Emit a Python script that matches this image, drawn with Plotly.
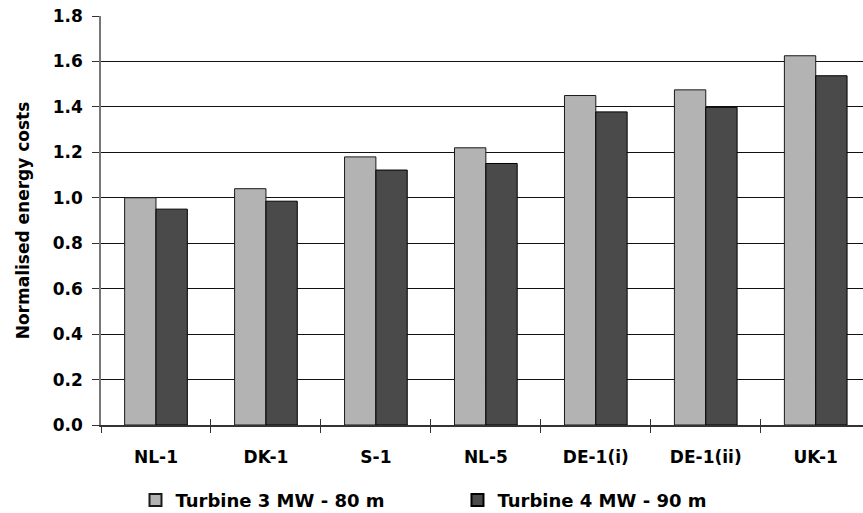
import plotly.graph_objects as go

# Offshore wind sites and normalised energy costs for two turbine designs
sites = ["NL-1", "DK-1", "S-1", "NL-5", "DE-1(i)", "DE-1(ii)", "UK-1"]
turbine_3mw = [1.00, 1.04, 1.18, 1.22, 1.45, 1.475, 1.625]
turbine_4mw = [0.95, 0.985, 1.122, 1.151, 1.378, 1.398, 1.537]
series_names = ["Turbine 3 MW - 80 m", "Turbine 4 MW - 90 m"]
y_ticks = [0.0, 0.2, 0.4, 0.6, 0.8, 1.0, 1.2, 1.4, 1.6, 1.8]

FONT = "DejaVu Sans"
LIGHT = "#b3b3b3"
DARK = "#4a4a4a"

fig = go.Figure()
fig.add_trace(go.Bar(
    x=sites, y=turbine_3mw, name=series_names[0],
    marker=dict(color=LIGHT, line=dict(color="#1a1a1a", width=1)),
))
fig.add_trace(go.Bar(
    x=sites, y=turbine_4mw, name=series_names[1],
    marker=dict(color=DARK, line=dict(color="#000000", width=1)),
))

# boundaries between site groups, used for the upper half of the crossing ticks
boundaries = [i - 0.5 for i in range(len(sites) + 1)]
x_range = [-0.5, 6.43]

fig.update_layout(
    width=863, height=513,
    margin=dict(l=101, r=0, t=16, b=88),
    paper_bgcolor="white", plot_bgcolor="white",
    font=dict(family=FONT, size=17, color="black", weight="bold"),
    barmode="group", bargap=0.43, bargroupgap=0,
    showlegend=True,
    legend=dict(
        orientation="h",
        xref="container", x=0.157, xanchor="left",
        yref="container", y=0.025, yanchor="middle",
        font=dict(family=FONT, size=18, color="black", weight="bold"),
        entrywidth=277, entrywidthmode="pixels",
        itemsizing="constant", traceorder="normal",
        bgcolor="rgba(0,0,0,0)",
    ),
    xaxis=dict(
        type="category", range=x_range, tickson="boundaries",
        ticks="outside", ticklen=6, tickwidth=1, tickcolor="#333333",
        showline=True, linecolor="#333333", linewidth=1.5,
        showgrid=False, zeroline=False, automargin=False,
        tickfont=dict(family=FONT, size=17, color="black", weight="bold"),
        ticklabelstandoff=16,
    ),
    xaxis2=dict(
        overlaying="x", anchor="y", side="bottom", range=x_range,
        tickmode="array", tickvals=boundaries,
        ticks="inside", ticklen=6, tickwidth=1, tickcolor="#333333",
        showticklabels=False, showline=False, showgrid=False, zeroline=False,
        automargin=False,
    ),
    yaxis=dict(
        range=[0, 1.8], tickmode="array", tickvals=y_ticks,
        tickformat=".1f",
        ticks="outside", ticklen=7, tickwidth=1, tickcolor="#333333",
        showline=True, linecolor="#777777", linewidth=1.5,
        showgrid=True, gridcolor="#111111", gridwidth=1,
        zeroline=False, automargin=False,
        tickfont=dict(family=FONT, size=17, color="black", weight="bold"),
        ticklabelstandoff=6,
        title=dict(
            text="Normalised energy costs", standoff=19,
            font=dict(family=FONT, size=17, color="black", weight="bold"),
        ),
    ),
)

# invisible helper so the overlay axis carrying the inner tick halves is drawn
fig.add_trace(go.Scatter(
    x=[x_range[0]], y=[0], xaxis="x2", mode="markers",
    marker=dict(opacity=0), showlegend=False, hoverinfo="skip",
))

fig.write_html("out.html")
